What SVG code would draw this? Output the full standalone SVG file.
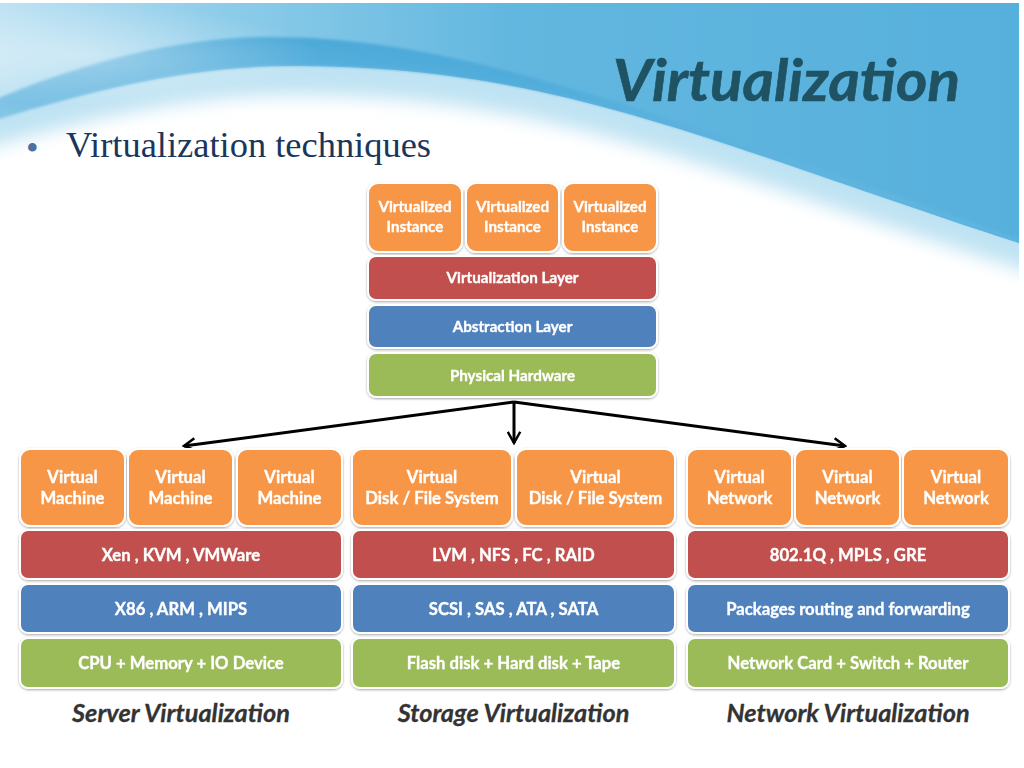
<svg xmlns="http://www.w3.org/2000/svg" width="1024" height="768" viewBox="0 0 1024 768">
<style>
.box{stroke:#ffffff;stroke-width:2}
.o{fill:#F79646}.r{fill:#C0504D}.b{fill:#4F81BD}.g{fill:#9BBB59}
.t{font-family:Lato,"Open Sans","Liberation Sans",sans-serif;font-weight:bold;fill:#ffffff;stroke:#ffffff;stroke-width:0.35;text-anchor:middle}
.s{font-size:15.2px}.m{font-size:16.7px}
.cap{font-family:Lato,"Open Sans","Liberation Sans",sans-serif;font-weight:bold;font-style:italic;font-size:25.3px;fill:#333333;stroke:#333333;stroke-width:0.3;text-anchor:middle}
.arrow{stroke:#000000;stroke-width:3;fill:none;marker-end:url(#ah)}
</style>
<defs>
<linearGradient id="sky" x1="0" y1="0" x2="1" y2="0">
<stop offset="0" stop-color="#c4e5f4"/>
<stop offset="0.22" stop-color="#8fcdea"/>
<stop offset="0.5" stop-color="#62b7df"/>
<stop offset="1" stop-color="#56b0dc"/>
</linearGradient>
<linearGradient id="band" x1="0" y1="0" x2="0" y2="1">
<stop offset="0" stop-color="#3a9fd4" stop-opacity="0.75"/>
<stop offset="1" stop-color="#7cc4e6" stop-opacity="0.2"/>
</linearGradient>
<radialGradient id="glow" cx="0.5" cy="0.5" r="0.5">
<stop offset="0" stop-color="#ffffff" stop-opacity="0.4"/>
<stop offset="1" stop-color="#ffffff" stop-opacity="0"/>
</radialGradient>
<filter id="soft" x="-10%" y="-10%" width="120%" height="140%"><feGaussianBlur stdDeviation="9"/></filter>
<filter id="soft2"><feGaussianBlur stdDeviation="1.5"/></filter>
<filter id="sh" x="-10%" y="-10%" width="120%" height="130%"><feDropShadow dx="0" dy="1" stdDeviation="1" flood-color="#000000" flood-opacity="0.35"/></filter>
<clipPath id="clipbg"><rect x="0" y="3" width="1019" height="765"/></clipPath>
<marker id="ah" viewBox="0 0 12 12" refX="10" refY="6" markerWidth="5" markerHeight="5" orient="auto" markerUnits="strokeWidth">
<path d="M1,1 L10,6 L1,11" fill="none" stroke="#000000" stroke-width="2"/>
</marker>
</defs>
<rect x="0" y="0" width="1024" height="768" fill="#ffffff"/>
<g id="background" clip-path="url(#clipbg)">
<path d="M-20,-20 H1040 V275 C 700,170 560,95 290,95 C 190,95 90,118 -20,150 Z" fill="#bfe3f3" filter="url(#soft)"/>
<path d="M-20,-20 H1040 V250 C 700,140 560,66 290,66 C 190,66 90,90 -20,125 Z" fill="url(#sky)"/>
<path d="M-20,106 C 80,62 180,37 270,37 C 450,37 620,100 1040,246 L1040,250 C 700,140 560,66 290,66 C 190,66 90,90 -20,125 Z" fill="url(#band)" filter="url(#soft2)"/>
<ellipse cx="80" cy="55" rx="240" ry="50" fill="url(#glow)"/>
</g>
<text id="title" x="613" y="101" font-family="Lato,'Open Sans','Liberation Sans',sans-serif" font-weight="bold" font-style="italic" font-size="57" fill="#1F5263" stroke="#1F5263" stroke-width="0.6" textLength="347" lengthAdjust="spacingAndGlyphs">Virtualization</text>
<text id="bullet" x="26" y="160" font-family="'Liberation Serif',serif" font-size="36" fill="#4F6F9F">•</text>
<text id="subtitle" x="66" y="157" font-family="'Liberation Serif',serif" font-size="35" fill="#1B365D" textLength="365" lengthAdjust="spacingAndGlyphs">Virtualization techniques</text>

<g id="top-stack" filter="url(#sh)">
<g id="inst1"><rect class="box o" x="368" y="183" width="94" height="69" rx="10"/><text class="t s" x="415" y="212">Virtualized</text><text class="t s" x="415" y="232">Instance</text></g>
<g id="inst2"><rect class="box o" x="466" y="183" width="93" height="69" rx="10"/><text class="t s" x="512.5" y="212">Virtualized</text><text class="t s" x="512.5" y="232">Instance</text></g>
<g id="inst3"><rect class="box o" x="563" y="183" width="94" height="69" rx="10"/><text class="t s" x="610" y="212">Virtualized</text><text class="t s" x="610" y="232">Instance</text></g>
<g id="virt-layer"><rect class="box r" x="368" y="256" width="289" height="44" rx="8"/><text class="t s" x="512.5" y="283">Virtualization Layer</text></g>
<g id="abs-layer"><rect class="box b" x="368" y="305" width="289" height="43" rx="8"/><text class="t s" x="512.5" y="332">Abstraction Layer</text></g>
<g id="phys-hw"><rect class="box g" x="368" y="353" width="289" height="44" rx="8"/><text class="t s" x="512.5" y="381">Physical Hardware</text></g>
</g>

<g id="connectors">
<path class="arrow" d="M514,402 L184,446"/>
<path class="arrow" d="M514,402 L514,443"/>
<path class="arrow" d="M514,402 L845,446"/>
</g>

<g id="server" filter="url(#sh)">
<g id="vm1"><rect class="box o" x="20" y="449" width="105" height="77" rx="10"/><text class="t m" x="72.5" y="483">Virtual</text><text class="t m" x="72.5" y="504">Machine</text></g>
<g id="vm2"><rect class="box o" x="128" y="449" width="105" height="77" rx="10"/><text class="t m" x="180.5" y="483">Virtual</text><text class="t m" x="180.5" y="504">Machine</text></g>
<g id="vm3"><rect class="box o" x="237" y="449" width="105" height="77" rx="10"/><text class="t m" x="289.5" y="483">Virtual</text><text class="t m" x="289.5" y="504">Machine</text></g>
<g id="srv-hyp"><rect class="box r" x="20" y="530" width="322" height="49" rx="8"/><text class="t m" x="181" y="561">Xen , KVM , VMWare</text></g>
<g id="srv-arch"><rect class="box b" x="20" y="584" width="322" height="49" rx="8"/><text class="t m" x="181" y="615">X86 , ARM , MIPS</text></g>
<g id="srv-hw"><rect class="box g" x="20" y="638" width="322" height="50" rx="8"/><text class="t m" x="181" y="669">CPU + Memory + IO Device</text></g>
</g>
<text id="cap-server" class="cap" x="181" y="722">Server Virtualization</text>

<g id="storage" filter="url(#sh)">
<g id="vd1"><rect class="box o" x="352" y="449" width="160" height="77" rx="10"/><text class="t m" x="432" y="483">Virtual</text><text class="t m" x="432" y="504">Disk / File System</text></g>
<g id="vd2"><rect class="box o" x="516" y="449" width="159" height="77" rx="10"/><text class="t m" x="595.5" y="483">Virtual</text><text class="t m" x="595.5" y="504">Disk / File System</text></g>
<g id="sto-virt"><rect class="box r" x="352" y="530" width="323" height="49" rx="8"/><text class="t m" x="513.5" y="561">LVM , NFS , FC , RAID</text></g>
<g id="sto-if"><rect class="box b" x="352" y="584" width="323" height="49" rx="8"/><text class="t m" x="513.5" y="615">SCSI , SAS , ATA , SATA</text></g>
<g id="sto-hw"><rect class="box g" x="352" y="638" width="323" height="50" rx="8"/><text class="t m" x="513.5" y="669">Flash disk + Hard disk + Tape</text></g>
</g>
<text id="cap-storage" class="cap" x="513.5" y="722">Storage Virtualization</text>

<g id="network" filter="url(#sh)">
<g id="vn1"><rect class="box o" x="687" y="449" width="105" height="77" rx="10"/><text class="t m" x="739.5" y="483">Virtual</text><text class="t m" x="739.5" y="504">Network</text></g>
<g id="vn2"><rect class="box o" x="795" y="449" width="105" height="77" rx="10"/><text class="t m" x="847.5" y="483">Virtual</text><text class="t m" x="847.5" y="504">Network</text></g>
<g id="vn3"><rect class="box o" x="903" y="449" width="106" height="77" rx="10"/><text class="t m" x="956" y="483">Virtual</text><text class="t m" x="956" y="504">Network</text></g>
<g id="net-proto"><rect class="box r" x="687" y="530" width="322" height="49" rx="8"/><text class="t m" x="848" y="561">802.1Q , MPLS , GRE</text></g>
<g id="net-route"><rect class="box b" x="687" y="584" width="322" height="49" rx="8"/><text class="t m" x="848" y="615">Packages routing and forwarding</text></g>
<g id="net-hw"><rect class="box g" x="687" y="638" width="322" height="50" rx="8"/><text class="t m" x="848" y="669">Network Card + Switch + Router</text></g>
</g>
<text id="cap-network" class="cap" x="848" y="722">Network Virtualization</text>
</svg>
